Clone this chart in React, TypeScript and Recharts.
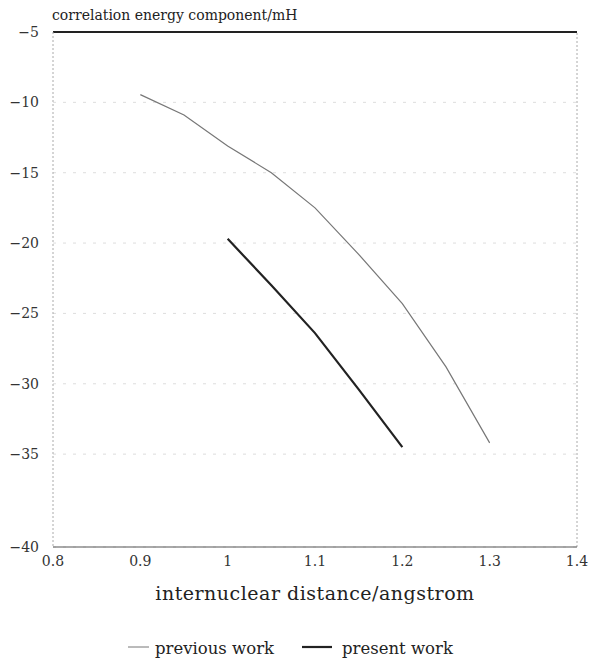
import { LineChart, Line, XAxis, YAxis, CartesianGrid, ReferenceLine, Legend, Label } from 'recharts';

const previousX = [0.9, 0.95, 1.0, 1.05, 1.1, 1.15, 1.2, 1.25, 1.3];
const previousY = [-9.45, -10.9, -13.1, -15.0, -17.5, -20.8, -24.3, -28.8, -34.2];
const presentX = [1.0, 1.05, 1.1, 1.15, 1.2];
const presentY = [-19.7, -23.0, -26.4, -30.4, -34.5];
const xTicks = [0.8, 0.9, 1.0, 1.1, 1.2, 1.3, 1.4];
const yTicks = [-5, -10, -15, -20, -25, -30, -35];
// the original plot's lowest band is stretched: its "-40" line sits lower than a linear scale would put it
const yBottom = -41.6;

const previousData = previousX.map((x, i) => ({ x, y: previousY[i] }));
const presentData = presentX.map((x, i) => ({ x, y: presentY[i] }));

const serif = '"DejaVu Serif", "Liberation Serif", serif';

function LegendContent() {
  const item = (label: string, lineLen: number, width: number, color: string, gap: number, after: number) => (
    <span style={{ display: 'inline-flex', alignItems: 'center', marginRight: after }}>
      <svg width={lineLen} height={10} style={{ marginRight: gap }}>
        <line x1={0} y1={4} x2={lineLen} y2={4} stroke={color} strokeWidth={width} />
      </svg>
      <span>{label}</span>
    </span>
  );
  return (
    <div style={{ fontFamily: serif, fontSize: 16.5, color: '#222', textAlign: 'left', paddingLeft: 128 }}>
      {item('previous work', 21, 1, '#777', 6, 28)}
      {item('present work', 30, 2.2, '#222', 10, 0)}
    </div>
  );
}

export default function App() {
  return (
    <div style={{ position: 'absolute', left: 0, top: 0, background: '#fff' }}>
      <LineChart width={592} height={662} margin={{ top: 32, right: 15, left: 0, bottom: 0 }}>
        <CartesianGrid horizontal vertical={false} stroke="#ddd" strokeDasharray="3 7" />
        <XAxis
          type="number"
          dataKey="x"
          domain={[0.8, 1.4]}
          ticks={xTicks}
          tickFormatter={(v: number) => (v === 1 ? '1' : v.toFixed(1))}
          tick={{ fontFamily: serif, fontSize: 14, fill: '#333' }}
          tickLine={false}
          axisLine={{ stroke: '#555', strokeWidth: 1.2 }}
          tickMargin={3}
          height={115}
          allowDataOverflow
        >
          <Label
            value="internuclear distance/angstrom"
            position="insideBottom"
            offset={62}
            style={{ fontFamily: serif, fontSize: 19, fill: '#222', letterSpacing: 0.5 }}
          />
        </XAxis>
        <YAxis
          type="number"
          domain={[yBottom, -5]}
          ticks={[...yTicks, yBottom]}
          tickFormatter={(v: number) => '\u2212' + (v === yBottom ? 40 : Math.abs(v))}
          tick={{ fontFamily: serif, fontSize: 14, fill: '#333' }}
          tickLine={false}
          axisLine={{ stroke: '#aaa', strokeDasharray: '2 2' }}
          tickMargin={8}
          width={53}
          allowDataOverflow
        >
          <Label
            content={() => (
              <text x={52} y={20} fontFamily={serif} fontSize={14} fill="#222">
                correlation energy component/mH
              </text>
            )}
          />
        </YAxis>
        <ReferenceLine y={-5} stroke="#222" strokeWidth={2} />
        <ReferenceLine x={1.4} stroke="#aaa" strokeDasharray="2 2" />
        <Line
          data={previousData}
          dataKey="y"
          name="previous work"
          type="linear"
          stroke="#777"
          strokeWidth={1.2}
          dot={false}
          isAnimationActive={false}
        />
        <Line
          data={presentData}
          dataKey="y"
          name="present work"
          type="linear"
          stroke="#222"
          strokeWidth={2.2}
          dot={false}
          isAnimationActive={false}
        />
        <Legend
          verticalAlign="middle"
          align="center"
          layout="horizontal"
          content={<LegendContent />}
          wrapperStyle={{ top: 638, left: 0, width: 592 }}
        />
      </LineChart>
    </div>
  );
}
